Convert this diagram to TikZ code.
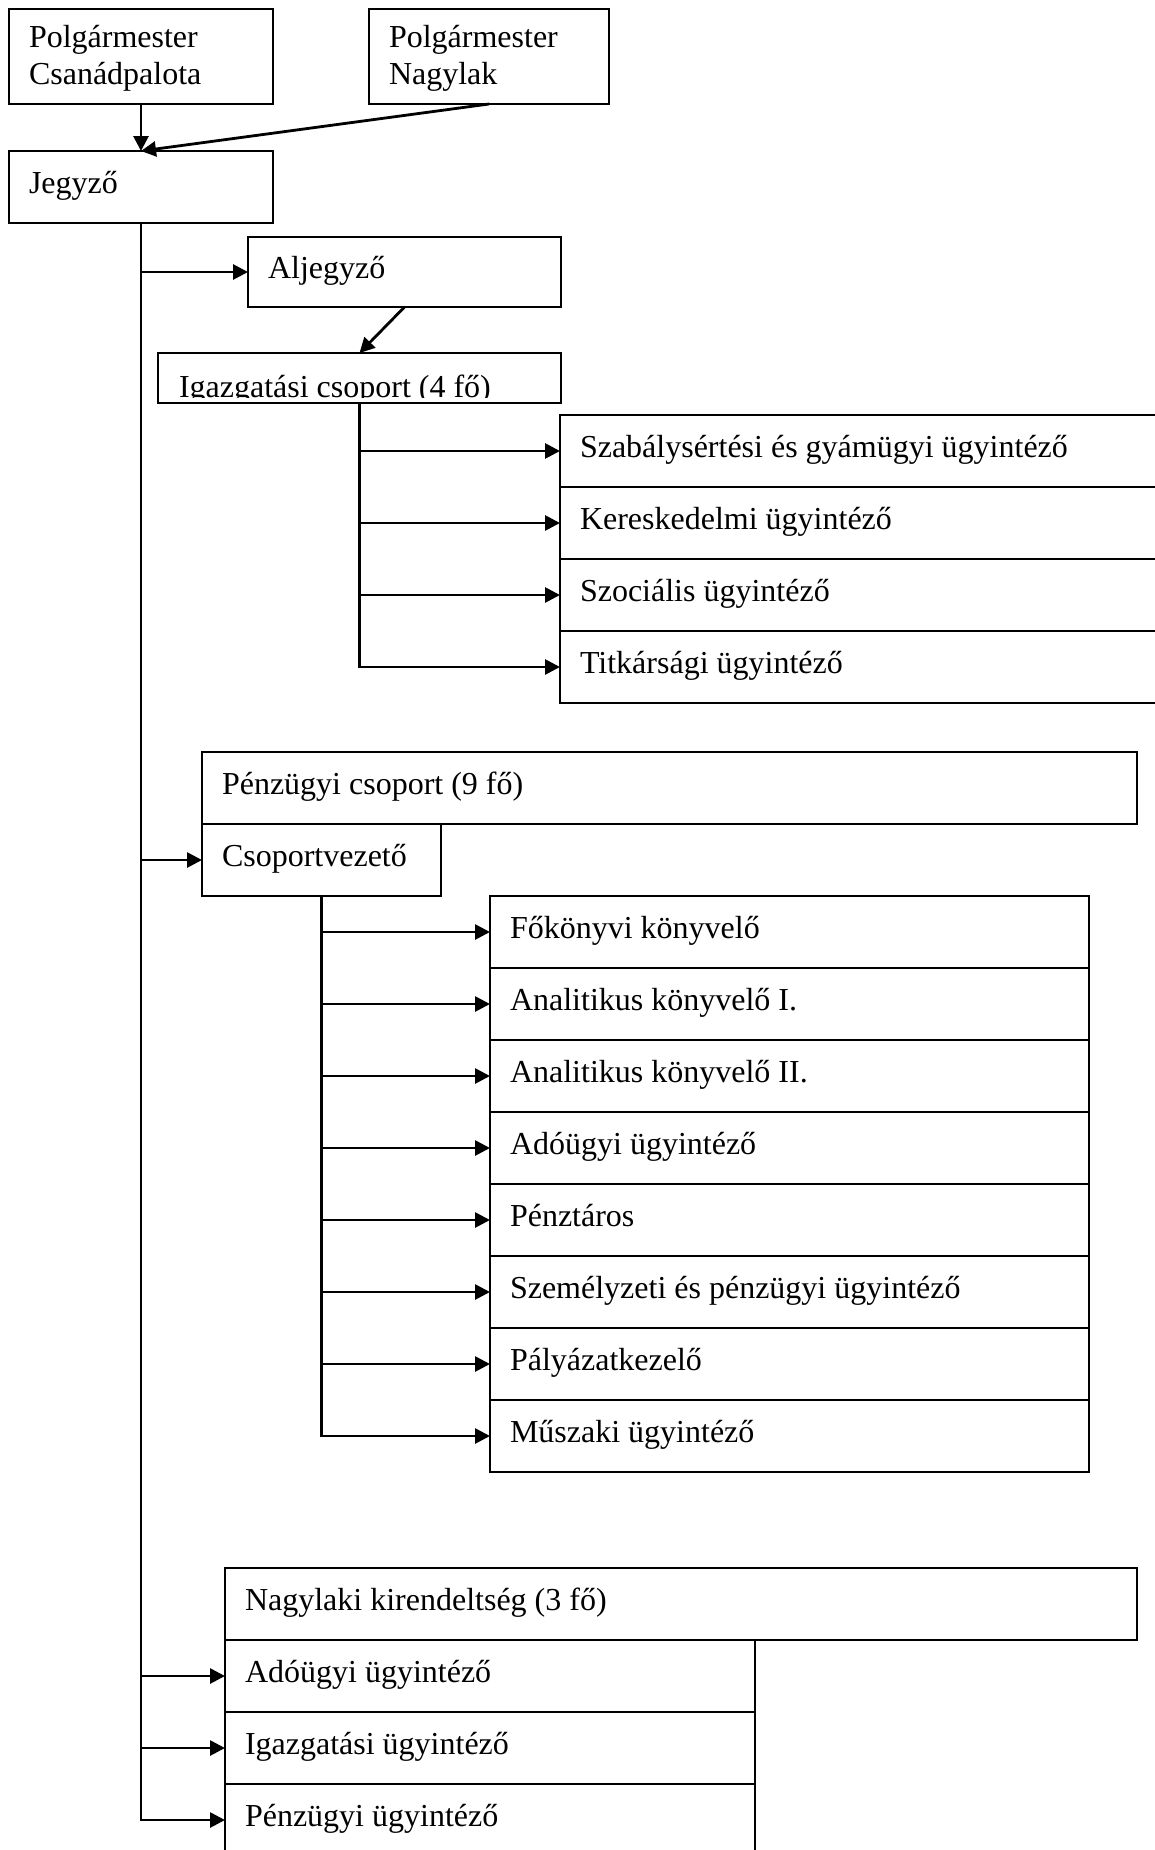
\documentclass[tikz,border=0pt]{standalone}
\usepackage{fontspec}
\setmainfont{Liberation Serif}
\usetikzlibrary{arrows.meta}
\begin{document}
\begin{tikzpicture}[x=1pt,y=-1pt,
  font=\fontsize{32}{37}\selectfont,
  box/.style={draw, line width=2pt, anchor=north west, outer sep=0pt,
    inner xsep=20pt, inner ysep=0pt, text width=#1, align=flush left,
    minimum height=72pt, text height=22pt, text depth=10pt},
  twoline/.style={minimum height=95pt, text depth=41pt},
  arr/.style={line width=2.8pt, -{Triangle[length=15pt,width=15pt]}}]
\useasboundingbox (0,0) rectangle (1155,1850);
\clip (0,0) rectangle (1155,1850);
\node[box=224pt, twoline] (cspal) at (9,9) {Polgármester\\Csanádpalota};
\node[box=200pt, twoline] (nlak) at (369,9) {Polgármester\\Nagylak};
\node[box=224pt] (jegyzo) at (9,151) {Jegyző};
\node[box=273pt, minimum height=70pt] (alj) at (248,237) {Aljegyző};
\node[draw, line width=2pt, anchor=north west, outer sep=0pt, inner sep=0pt,
  minimum width=403pt, minimum height=50pt,
  path picture={
    \clip ([yshift=6pt]path picture bounding box.south west) rectangle (path picture bounding box.north east);
    \node[draw=none, minimum size=0pt, inner sep=0pt, anchor=base west] at ([xshift=21pt,yshift=-44pt]path picture bounding box.north west) {Igazgatási csoport (4 fő)};}]
  (igcs) at (158,353) {};
\node[box=570pt] (szab) at (560,415) {Szabálysértési és gyámügyi ügyintéző};
\node[box=570pt] (ker) at (560,487) {Kereskedelmi ügyintéző};
\node[box=570pt] (szoc) at (560,559) {Szociális ügyintéző};
\node[box=570pt] (titk) at (560,631) {Titkársági ügyintéző};
\node[box=895pt] (pcs) at (202,752) {Pénzügyi csoport (9 fő)};
\node[box=199pt] (cv) at (202,824) {Csoportvezető};
\node[box=559pt] (fokony) at (490,896) {Főkönyvi könyvelő};
\node[box=559pt] (anal1) at (490,968) {Analitikus könyvelő I.};
\node[box=559pt] (anal2) at (490,1040) {Analitikus könyvelő II.};
\node[box=559pt] (ado) at (490,1112) {Adóügyi ügyintéző};
\node[box=559pt] (penzt) at (490,1184) {Pénztáros};
\node[box=559pt] (szem) at (490,1256) {Személyzeti és pénzügyi ügyintéző};
\node[box=559pt] (palyaz) at (490,1328) {Pályázatkezelő};
\node[box=559pt] (musz) at (490,1400) {Műszaki ügyintéző};
\node[box=872pt] (nk) at (225,1568) {Nagylaki kirendeltség (3 fő)};
\node[box=490pt] (nkado) at (225,1640) {Adóügyi ügyintéző};
\node[box=490pt] (nkig) at (225,1712) {Igazgatási ügyintéző};
\node[box=490pt] (nkpenz) at (225,1784) {Pénzügyi ügyintéző};
\draw[arr] (cspal.south) -- (jegyzo.north);
\draw[arr] (nlak.south) -- (jegyzo.north);
\draw[arr] (jegyzo.south |- alj.west) -- (alj.west);
\draw[arr] (alj.south) -- (igcs.north);
\draw[arr] (igcs.south |- szab.west) -- (szab.west);
\draw[arr] (igcs.south |- ker.west) -- (ker.west);
\draw[arr] (igcs.south |- szoc.west) -- (szoc.west);
\draw[arr] (igcs.south) |- (titk.west);
\draw[arr] (jegyzo.south |- cv.west) -- (cv.west);
\draw[arr] (cv.south |- fokony.west) -- (fokony.west);
\draw[arr] (cv.south |- anal1.west) -- (anal1.west);
\draw[arr] (cv.south |- anal2.west) -- (anal2.west);
\draw[arr] (cv.south |- ado.west) -- (ado.west);
\draw[arr] (cv.south |- penzt.west) -- (penzt.west);
\draw[arr] (cv.south |- szem.west) -- (szem.west);
\draw[arr] (cv.south |- palyaz.west) -- (palyaz.west);
\draw[arr] (cv.south) |- (musz.west);
\draw[arr] (jegyzo.south |- nkado.west) -- (nkado.west);
\draw[arr] (jegyzo.south |- nkig.west) -- (nkig.west);
\draw[arr] (jegyzo.south) |- (nkpenz.west);
\end{tikzpicture}
\end{document}
